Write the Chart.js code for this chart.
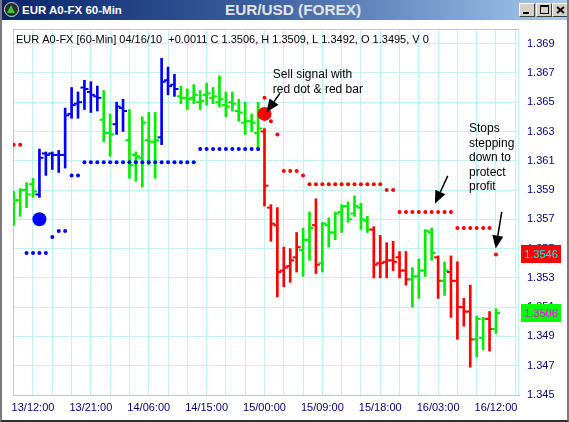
<!DOCTYPE html>
<html>
<head>
<meta charset="utf-8">
<title>EUR/USD (FOREX)</title>
<script src="https://cdn.jsdelivr.net/npm/chart.js@4.4.1/dist/chart.umd.min.js"></script>
<style>
  html, body { margin: 0; padding: 0; background: #fff; }
  #win { position: absolute; left: 0; top: 0; width: 569px; height: 422px; overflow: hidden; background: #fff; }
  #c { position: absolute; left: 0; top: 0; }
  #frame { position: absolute; left: 0; top: 0; width: 569px; height: 422px; box-sizing: border-box;
           border-left: 2px solid #7a7a7a; border-right: 2px solid #7a7a7a; border-bottom: 2px solid #303030; pointer-events: none; }
  #bar { position: absolute; left: 0; top: 0; width: 569px; height: 20px;
         background: linear-gradient(90deg, #0a246a 0%, #3a5f9e 45%, #a6caf0 100%); }
  #ico { position: absolute; left: 4px; top: 2px; width: 13px; height: 13px; border-radius: 50%;
         background: #2b2b2b; border: 1.5px solid #d8d8d8; overflow: hidden; }
  #tri { position: absolute; left: 2px; top: 2px; width: 0; height: 0;
         border-left: 4.5px solid transparent; border-right: 4.5px solid transparent; border-bottom: 8px solid #3bc43b; }
  #cap { position: absolute; left: 22px; top: 3px; font: bold 11.5px "Liberation Sans", Arial, sans-serif; color: #fff; line-height: 14px; white-space: nowrap; }
  #ttl { position: absolute; left: 225px; top: 1px; font: bold 15.3px "Liberation Sans", Arial, sans-serif; color: #e4e4e4; line-height: 18px; white-space: nowrap; }
  .btn { position: absolute; top: 3px; width: 16px; height: 14px; box-sizing: border-box; background: #d4d0c8;
         border-top: 1px solid #fff; border-left: 1px solid #fff; border-right: 1px solid #404040; border-bottom: 1px solid #404040; }
  .mn { position: absolute; left: 3px; top: 8px; width: 6px; height: 2px; background: #000; }
  .mx { position: absolute; left: 3px; top: 1px; width: 7px; height: 6px; border: 1px solid #000; border-top-width: 2px; }
  .x1, .x2 { position: absolute; left: 3px; top: 5px; width: 9px; height: 2px; background: #000; }
  .x1 { transform: rotate(40deg); }
  .x2 { transform: rotate(-40deg); }
</style>
</head>
<body>
<div id="win">
  <canvas id="c" width="569" height="422"></canvas>
  <div id="bar">
    <div id="ico"><div id="tri"></div></div>
    <span id="cap">EUR A0-FX 60-Min</span>
    <span id="ttl">EUR/USD (FOREX)</span>
    <div class="btn" style="left:519px"><div class="mn"></div></div>
    <div class="btn" style="left:536px"><div class="mx"></div></div>
    <div class="btn" style="left:552px"><div class="x1"></div><div class="x2"></div></div>
  </div>
  <div id="frame"></div>
</div>
<script>
// 60-minute EUR/USD bars, 13/09:00 .. 16/12:00 (one entry per hour)
const opens = [
  1.3578, 1.3583, 1.3590, 1.3594, 1.3587, 1.3615, 1.3615, 1.3614, 1.3614, 1.3642,
  1.3649, 1.3660, 1.3657, 1.3654, 1.3638, 1.3629, 1.3635, 1.3646, 1.3624, 1.3614,
  1.3612, 1.3624, 1.3623, 1.3626, 1.3665, 1.3662, 1.3654, 1.3653, 1.3653, 1.3650,
  1.3655, 1.3653, 1.3650, 1.3648, 1.3650, 1.3644, 1.3636, 1.3637, 1.3629, 1.3630,
  1.3578, 1.3566, 1.3535, 1.3538, 1.3544, 1.3549, 1.3556, 1.3566, 1.3540, 1.3566,
  1.3561, 1.3575, 1.3579, 1.3574, 1.3578, 1.3569, 1.3563, 1.3540, 1.3541, 1.3542,
  1.3544, 1.3535, 1.3529, 1.3531, 1.3535, 1.3561, 1.3544, 1.3528, 1.3534, 1.3528,
  1.3510, 1.3507, 1.3488, 1.3489, 1.3502, 1.3495
];
const highs = [
  1.3589, 1.3591, 1.3595, 1.3598, 1.3618, 1.3616, 1.3616, 1.3617, 1.3646, 1.3660,
  1.3657, 1.3665, 1.3664, 1.3661, 1.3658, 1.3642, 1.3650, 1.3652, 1.3645, 1.3616,
  1.3640, 1.3643, 1.3643, 1.3680, 1.3674, 1.3669, 1.3661, 1.3659, 1.3662, 1.3658,
  1.3663, 1.3660, 1.3668, 1.3657, 1.3657, 1.3652, 1.3650, 1.3642, 1.3650, 1.3632,
  1.3580, 1.3578, 1.3551, 1.3550, 1.3561, 1.3564, 1.3575, 1.3584, 1.3568, 1.3571,
  1.3575, 1.3580, 1.3582, 1.3586, 1.3581, 1.3572, 1.3565, 1.3559, 1.3554, 1.3555,
  1.3548, 1.3548, 1.3537, 1.3543, 1.3563, 1.3564, 1.3545, 1.3541, 1.3545, 1.3541,
  1.3516, 1.3525, 1.3504, 1.3503, 1.3507, 1.3509
];
const lows = [
  1.3566, 1.3572, 1.3578, 1.3585, 1.3585, 1.3600, 1.3604, 1.3602, 1.3605, 1.3639,
  1.3639, 1.3645, 1.3643, 1.3644, 1.3623, 1.3613, 1.3628, 1.3630, 1.3598, 1.3596,
  1.3592, 1.3607, 1.3598, 1.3621, 1.3655, 1.3654, 1.3649, 1.3645, 1.3649, 1.3645,
  1.3648, 1.3649, 1.3647, 1.3640, 1.3644, 1.3637, 1.3628, 1.3630, 1.3619, 1.3579,
  1.3555, 1.3517, 1.3524, 1.3527, 1.3534, 1.3531, 1.3542, 1.3533, 1.3534, 1.3551,
  1.3556, 1.3561, 1.3568, 1.3572, 1.3563, 1.3561, 1.3530, 1.3530, 1.3530, 1.3535,
  1.3530, 1.3525, 1.3510, 1.3516, 1.3531, 1.3542, 1.3516, 1.3518, 1.3503, 1.3488,
  1.3497, 1.3469, 1.3476, 1.3481, 1.3480, 1.3492
];
const closes = [
  1.3583, 1.3590, 1.3587, 1.3589, 1.3612, 1.3614, 1.3614, 1.3614, 1.3641, 1.3648,
  1.3650, 1.3659, 1.3655, 1.3653, 1.3629, 1.3628, 1.3647, 1.3644, 1.3607, 1.3613,
  1.3636, 1.3623, 1.3624, 1.3664, 1.3661, 1.3659, 1.3653, 1.3652, 1.3655, 1.3651,
  1.3656, 1.3654, 1.3652, 1.3647, 1.3649, 1.3643, 1.3637, 1.3636, 1.3632, 1.3593,
  1.3567, 1.3534, 1.3537, 1.3542, 1.3551, 1.3556, 1.3564, 1.3539, 1.3567, 1.3561,
  1.3574, 1.3579, 1.3570, 1.3579, 1.3570, 1.3563, 1.3539, 1.3540, 1.3542, 1.3541,
  1.3535, 1.3529, 1.3531, 1.3535, 1.3562, 1.3547, 1.3528, 1.3535, 1.3528, 1.3510,
  1.3507, 1.3488, 1.3502, 1.3502, 1.3495, 1.3506
];
// bar colouring: U = up trend (blue), S = sideways (green), D = down trend (red)
const trend = [
  'S','S','S','S','U','U','U','U','U','U',
  'U','U','U','U','S','S','U','U','S','S',
  'S','S','S','U','U','U','S','S','S','S',
  'S','S','S','S','S','S','S','S','S','D',
  'D','D','D','D','D','S','S','D','S','S',
  'S','S','S','S','S','S','D','D','D','D',
  'D','D','S','S','S','S','D','S','D','D',
  'D','D','S','S','D','S'
];
// trailing stop dots (null = no dot on that bar)
const _ = null;
const upStops = [
  _, _, 1.3547, 1.3547, 1.3547, 1.3547, 1.3558, 1.3562, 1.3562, 1.3600,
  1.3600, 1.3609, 1.3609, 1.3609, 1.3609, 1.3609, 1.3609, 1.3609, 1.3609, 1.3609,
  1.3609, 1.3609, 1.3609, 1.3609, 1.3609, 1.3609, 1.3609, 1.3609, 1.3609, 1.3618,
  1.3618, 1.3618, 1.3618, 1.3618, 1.3618, 1.3618, 1.3618, 1.3618, 1.3618, _,
  _, _, _, _, _, _, _, _, _, _,
  _, _, _, _, _, _, _, _, _, _,
  _, _, _, _, _, _, _, _, _, _,
  _, _, _, _, _, _
];
const downStops = [
  1.3621, 1.3621, _, _, _, _, _, _, _, _,
  _, _, _, _, _, _, _, _, _, _,
  _, _, _, _, _, _, _, _, _, _,
  _, _, _, _, _, _, _, _, _, 1.3653,
  1.3637, 1.3628, 1.3603, 1.3603, 1.3603, 1.3600, 1.3594, 1.3594, 1.3594, 1.3594,
  1.3594, 1.3594, 1.3594, 1.3594, 1.3594, 1.3594, 1.3594, 1.3594, 1.3590, 1.3590,
  1.3575, 1.3575, 1.3575, 1.3575, 1.3575, 1.3575, 1.3575, 1.3575, 1.3575, 1.3564,
  1.3564, 1.3564, 1.3564, 1.3564, 1.3564, 1.3546
];
// big signal dots: [bar, price]
const buySignal = [4, 1.3570];
const sellSignal = [39, 1.3642];

// axis labels
const timeLabels = ['13/12:00', '13/21:00', '14/06:00', '14/15:00', '15/00:00', '15/09:00', '15/18:00', '16/03:00', '16/12:00'];
const firstLabelBar = 3;      // 13/12:00 is the 4th bar
const labelEvery = 9;         // hours between time labels
const gridEvery = 3;          // hours between vertical grid lines
const priceTicks = [1.345, 1.347, 1.349, 1.351, 1.353, 1.355, 1.357, 1.359, 1.361, 1.363, 1.365, 1.367, 1.369];

const symbolText = 'EUR A0-FX [60-Min] 04/16/10';

const COL = { U: '#0000ff', S: '#00ee00', D: '#ff0000' };
const FONT = '"Liberation Sans", Arial, sans-serif';
const n = closes.length;
const last = n - 1;
const barCol = trend.map(t => COL[t]);

const hl = closes.map((c, i) => ({ x: i, y: [lows[i], highs[i]] }));
const op = opens.map((v, i) => ({ x: i, y: v }));
const cl = closes.map((v, i) => ({ x: i, y: v }));
const upDots = upStops.map((v, i) => (v === null ? null : { x: i, y: v })).filter(Boolean);
const dnDots = downStops.map((v, i) => (v === null ? null : { x: i, y: v })).filter(Boolean);
const gridVals = [];
for (let v = 0; v <= n + 2; v += gridEvery) gridVals.push(v);

// text notes and arrows, anchored in (bar, price) space
const notes = [
  { at: [40.3, 1.36687], lines: ['Sell signal with', 'red dot & red bar'] },
  { at: [70.8, 1.36316], lines: ['Stops', 'stepping', 'down to', 'protect', 'profit'] }
];
const arrows = [
  { from: [41.4, 1.36560], to: [39.3, 1.36432] },
  { from: [67.5, 1.35997], to: [65.5, 1.35806] },
  { from: [75.9, 1.35751], to: [74.95, 1.35500] }
];

const overlay = {
  id: 'overlay',
  beforeDatasetsDraw(chart) {
    const { ctx, chartArea: a } = chart;
    ctx.save();
    ctx.lineWidth = 1;
    ctx.strokeStyle = '#c4c4c4';
    ctx.beginPath();
    ctx.moveTo(a.left + 0.5, a.bottom);
    ctx.lineTo(a.left + 0.5, a.top + 0.5);
    ctx.lineTo(a.right, a.top + 0.5);
    ctx.stroke();
    ctx.strokeStyle = '#bff4f4';
    ctx.beginPath();
    ctx.moveTo(a.right - 0.5, a.top + 1);
    ctx.lineTo(a.right - 0.5, a.bottom);
    ctx.stroke();
    ctx.restore();
  },
  afterDraw(chart) {
    const { ctx, chartArea: a, scales: { x, y } } = chart;
    const px = p => [x.getPixelForValue(p[0]), y.getPixelForValue(p[1])];
    ctx.save();

    // quote line
    const chg = closes[last] - closes[last - 1];
    const quote = symbolText + '  ' + (chg >= 0 ? '+' : '') + chg.toFixed(4) +
      ' C ' + closes[last].toFixed(4) + ', H ' + highs[last].toFixed(4) +
      ', L ' + lows[last].toFixed(4) + ', O ' + opens[last].toFixed(4) + ', V 0';
    ctx.fillStyle = '#000';
    ctx.font = '11px ' + FONT;
    ctx.textBaseline = 'middle';
    ctx.textAlign = 'left';
    ctx.fillText(quote, a.left + 3, a.top + 11);

    // notes
    ctx.font = '12px ' + FONT;
    notes.forEach(nt => {
      const [nx, ny] = px(nt.at);
      nt.lines.forEach((s, k) => ctx.fillText(s, nx, ny + k * 14.4));
    });

    // arrows
    arrows.forEach(ar => {
      const [x0, y0] = px(ar.from);
      const [x1, y1] = px(ar.to);
      const ang = Math.atan2(y1 - y0, x1 - x0);
      const L = 13, W = 5.5;
      const bx = x1 - Math.cos(ang) * L, by = y1 - Math.sin(ang) * L;
      ctx.strokeStyle = '#000';
      ctx.lineWidth = 1.5;
      ctx.beginPath();
      ctx.moveTo(x0, y0);
      ctx.lineTo(bx, by);
      ctx.stroke();
      ctx.fillStyle = '#000';
      ctx.beginPath();
      ctx.moveTo(x1, y1);
      ctx.lineTo(bx + Math.sin(ang) * W, by - Math.cos(ang) * W);
      ctx.lineTo(bx - Math.sin(ang) * W, by + Math.cos(ang) * W);
      ctx.closePath();
      ctx.fill();
    });

    // last-value boxes on the price axis
    const box = (val, bg, fg) => {
      const yy = y.getPixelForValue(val);
      ctx.fillStyle = bg;
      ctx.fillRect(a.right + 2, Math.round(yy) - 9, 40, 18);
      ctx.fillStyle = fg;
      ctx.font = '11px ' + FONT;
      ctx.textAlign = 'center';
      ctx.textBaseline = 'middle';
      ctx.fillText(val.toFixed(4), a.right + 22, yy + 0.5);
    };
    box(downStops[last], '#ff0000', '#00ffff');
    box(closes[last], '#00ff00', '#ff00ff');
    ctx.restore();
  }
};

Chart.defaults.font.family = FONT;

new Chart(document.getElementById('c'), {
  type: 'bar',
  data: {
    datasets: [
      { type: 'scatter', data: [{ x: buySignal[0], y: buySignal[1] }], pointStyle: 'circle', pointRadius: 7,
        backgroundColor: '#0000ff', borderWidth: 0, order: 1 },
      { type: 'scatter', data: [{ x: sellSignal[0], y: sellSignal[1] }], pointStyle: 'circle', pointRadius: 7,
        backgroundColor: '#ff0000', borderWidth: 0, order: 1 },
      { type: 'scatter', data: upDots, pointStyle: 'circle', pointRadius: 2,
        backgroundColor: '#0000ff', borderWidth: 0, order: 2 },
      { type: 'scatter', data: dnDots, pointStyle: 'circle', pointRadius: 2,
        backgroundColor: '#ff0000', borderWidth: 0, order: 2 },
      { type: 'scatter', data: op, pointStyle: 'dash', pointRotation: 180, pointRadius: 4,
        borderWidth: 2, pointBorderColor: barCol, pointBackgroundColor: barCol, order: 3 },
      { type: 'scatter', data: cl, pointStyle: 'dash', pointRotation: 0, pointRadius: 4,
        borderWidth: 2, pointBorderColor: barCol, pointBackgroundColor: barCol, order: 3 },
      { type: 'bar', data: hl, backgroundColor: barCol, barThickness: 2, maxBarThickness: 2,
        borderWidth: 0, order: 4 }
    ]
  },
  options: {
    responsive: false,
    animation: false,
    events: [],
    devicePixelRatio: 1,
    layout: { padding: { left: 13, top: 29, right: 0, bottom: 0 } },
    plugins: { legend: { display: false }, tooltip: { enabled: false } },
    scales: {
      x: {
        type: 'linear',
        offset: false,
        min: -0.11,
        max: 78.58,
        afterBuildTicks: s => { s.ticks = gridVals.map(v => ({ value: v })); },
        afterFit: s => { s.height = 27; },
        grid: { color: '#bff4f4', lineWidth: 1, drawTicks: false, offset: false },
        border: { display: true, color: '#c4c4c4' },
        ticks: {
          autoSkip: false, maxRotation: 0, minRotation: 0, padding: 6,
          color: '#000080', font: { size: 11, family: FONT },
          callback: v => {
            const k = (v - firstLabelBar) / labelEvery;
            return Number.isInteger(k) && k >= 0 && k < timeLabels.length ? timeLabels[k] : '';
          }
        }
      },
      y: {
        type: 'linear',
        position: 'right',
        beginAtZero: false,
        min: 1.345,
        max: 1.370,
        afterBuildTicks: s => { s.ticks = priceTicks.map(v => ({ value: v })); },
        afterFit: s => { s.width = 50; },
        grid: { color: '#bff4f4', lineWidth: 1, drawTicks: false },
        border: { display: false },
        ticks: {
          padding: 8, color: '#000080', font: { size: 11, family: FONT },
          callback: v => v.toFixed(3)
        }
      }
    }
  },
  plugins: [overlay]
});
</script>
</body>
</html>
